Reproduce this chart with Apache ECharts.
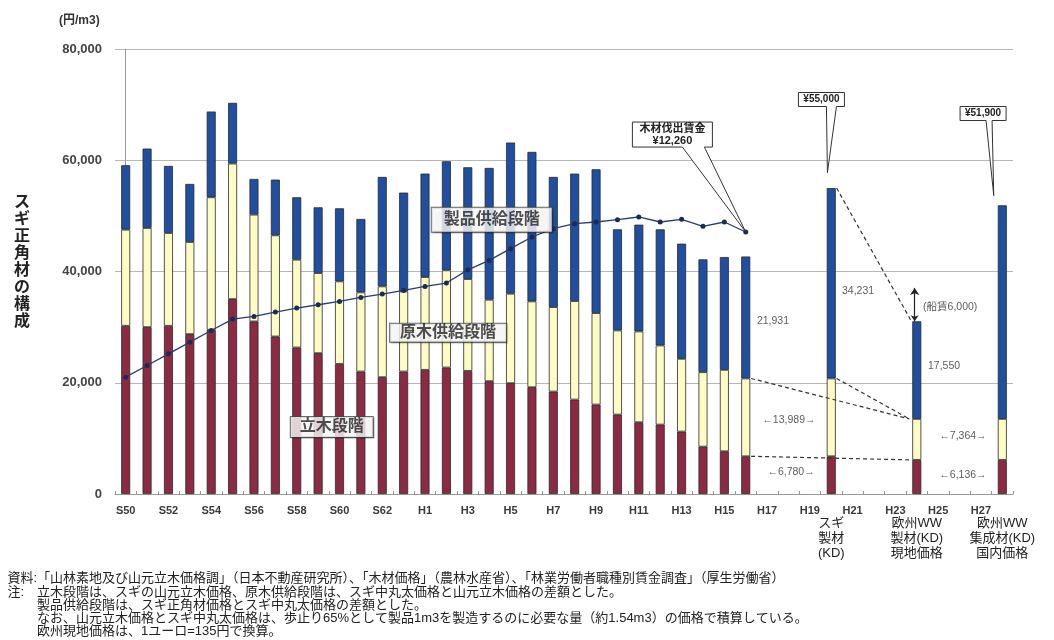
<!DOCTYPE html>
<html><head><meta charset="utf-8">
<script src="https://cdn.jsdelivr.net/npm/echarts@6/dist/echarts.min.js"></script>
<style>html,body{margin:0;padding:0;background:#fff}#c{width:1054px;height:640px}</style>
</head><body><div id="c"></div>
<script>
// ---- data ----
const categories = ['S50','S51','S52','S53','S54','S55','S56','S57','S58','S59','S60','S61','S62','S63',
  'H1','H2','H3','H4','H5','H6','H7','H8','H9','H10','H11','H12','H13','H14','H15','H16',
  'H17','H18','H19','H20','H21','H22','H23','H24','H25','H26','H27','H28'];
// 立木段階
const standing = [30240,30000,30240,28740,29520,35040,31020,28320,26340,25320,23400,22020,21000,22020,
  22320,22740,22140,20280,19920,19200,18420,16980,16080,14280,12900,12480,11220,8520,7680,6780,
  null,null,null,6780,null,null,null,6136,null,null,null,6136];
// 原木供給段階
const logSupply = [17280,17820,16680,16560,23820,24360,19200,18180,15780,14400,14820,14220,16320,14400,
  16680,17460,16500,14640,16080,15420,15180,17700,16440,15120,16320,14220,13080,13380,14640,13989,
  null,null,null,13989,null,null,null,7364,null,null,null,7364];
// 製品供給段階
const productSupply = [11580,14280,12060,10440,15420,10920,6420,10020,11220,11820,13140,13200,19680,17760,
  18600,19620,20100,23700,27180,26880,23400,22920,25860,18180,19200,20880,20700,20280,20280,21931,
  null,null,null,34231,null,null,null,17550,null,null,null,38400];
// 木材伐出賃金 (line, drawn on chart scale)
const wageLine = [21000,23100,25200,27300,29400,31440,31920,32700,33420,34020,34620,35340,35940,36600,
  37320,37920,40300,42000,44100,46200,47700,48600,48900,49320,49800,48900,49380,48120,48900,47100,
  null,null,null,null,null,null,null,null,null,null,null,null];
const yTicks = [0,20000,40000,60000,80000];
const extraLabels = {33:'スギ\n製材\n(KD)', 37:'欧州WW\n製材(KD)\n現地価格', 41:'欧州WW\n集成材(KD)\n国内価格'};
const seriesNames = ['立木段階','原木供給段階','製品供給段階','木材伐出賃金'];

// ---- annotations (data coordinates: x = category index, y = value) ----
const stageLabels = [
  {name:'製品供給段階', value:[17.12,49320], pad:[4,12]},
  {name:'原木供給段階', value:[15.08,28980], pad:[1,10]},
  {name:'立木段階', value:[9.64,12060], pad:[2,9]}
];
const valueNotes = [
  {name:'21,931', value:[29.43,31140], pos:'right', bg:true},
  {name:'34,231', value:[33.41,36540], pos:'right', bg:true},
  {name:'17,550', value:[37.43,23040], pos:'right', bg:true},
  {name:'(船賃6,000)', value:[37.2,33660], pos:'right'},
  {name:'←13,989→', value:[31.02,13320], pos:'inside'},
  {name:'←6,780→', value:[31.12,3960], pos:'inside'},
  {name:'←7,364→', value:[39.16,10440], pos:'inside'},
  {name:'←6,136→', value:[39.16,3420], pos:'inside'}
];
const dashedLinks = [
  [[29.25,20769],[36.65,13500]],
  [[33.25,20769],[36.65,13500]],
  [[33.25,55000],[36.75,31050]],
  [[29.25,6780],[36.65,6136]]
];
const freightArrow = [[36.9,31050],[36.9,37050]];
const callouts = [
  {text:'木材伐出賃金\n¥12,260', at:[25.57,64620], tip:[29,47100], w:80, h:25, n:[10,32]},
  {text:'¥55,000', at:[32.54,70920], tip:[32.82,57780], w:46, h:14, n:[5,15]},
  {text:'¥51,900', at:[40.1,68400], tip:[40.6,53640], w:46, h:14, n:[3,9]}
];
const notes = [
  '「山林素地及び山元立木価格調」（日本不動産研究所）、「木材価格」（農林水産省）、「林業労働者職種別賃金調査」（厚生労働省）',
  '立木段階は、スギの山元立木価格、原木供給段階は、スギ中丸太価格と山元立木価格の差額とした。',
  '製品供給段階は、スギ正角材価格とスギ中丸太価格の差額とした。',
  'なお、山元立木価格とスギ中丸太価格は、歩止り65%として製品1m3を製造するのに必要な量（約1.54m3）の価格で積算している。',
  '欧州現地価格は、1ユーロ=135円で換算。'
];

const FF = "'Liberation Sans','Noto Sans CJK JP',sans-serif";
const chart = echarts.init(document.getElementById('c'), null, {renderer:'canvas'});
const fmt = v => String(v).replace(/\B(?=(\d{3})+(?!\d))/g, ',');
const barCommon = {type:'bar', stack:'s', barWidth:9, xAxisIndex:0, yAxisIndex:0,
  itemStyle:{borderColor:'#2a2a2a', borderWidth:0.8}};

const markLineData = dashedLinks.map(l => [{coord:l[0]},{coord:l[1]}]);
markLineData.push([
  {coord:freightArrow[0], symbol:'arrow', symbolSize:6, lineStyle:{type:'solid', width:1.2, color:'#222'}},
  {coord:freightArrow[1], symbol:'arrow', symbolSize:7, lineStyle:{type:'solid', width:1.2, color:'#222'}}
]);

chart.setOption({
  animation:false,
  textStyle:{fontFamily:FF},
  title:[
    {text:'(円/m3)', left:54, top:10, textStyle:{fontSize:12, fontWeight:'bold', color:'#333', fontFamily:FF}},
    {text:'ス\nギ\n正\n角\n材\nの\n構\n成', left:9, top:189,
     textStyle:{fontSize:16, fontWeight:'bold', color:'#222', lineHeight:17, fontFamily:FF}}
  ],
  grid:{left:115, right:41, top:49, bottom:146, containLabel:false},
  xAxis:[
    {type:'category', data:categories, position:'bottom',
     axisLine:{lineStyle:{color:'#9a9a9a'}},
     axisTick:{show:true, inside:true, length:3, interval:0, lineStyle:{color:'#8a9a8a'}},
     axisLabel:{interval:(i)=> i%2===0 && i<=40, margin:11, fontSize:11, fontWeight:'bold', color:'#3a3a3a'}},
    {type:'category', data:categories, position:'bottom', gridIndex:0,
     axisLine:{show:false}, axisTick:{show:false},
     axisLabel:{interval:(i)=> extraLabels[i]!==undefined, margin:22, fontSize:13, lineHeight:15,
       color:'#222', formatter:(v,i)=> extraLabels[i] || ''}},
    {type:'value', min:-0.5, max:41.5, show:false}
  ],
  yAxis:[{type:'value', min:0, max:80000, interval:20000,
    axisLine:{show:true, lineStyle:{color:'#9a9a9a'}}, axisTick:{show:false},
    splitLine:{lineStyle:{color:'#b8b8b8', width:1}},
    axisLabel:{formatter:v=> yTicks.includes(v)? fmt(v):'', fontSize:13, fontWeight:'bold', color:'#444', margin:13}}],
  graphic:[
    {type:'text', right:1054-37, top:572, style:{text:'資料:\n注:', fontSize:13, lineHeight:13.3, fill:'#222', align:'right', fontFamily:FF}},
    {type:'text', left:37, top:572, style:{text:notes.join('\n'),
      fontSize:13, lineHeight:13.3, fill:'#222', fontFamily:FF}}
  ],
  series:[
    Object.assign({}, barCommon, {name:seriesNames[0], data:standing, itemStyle:Object.assign({}, barCommon.itemStyle, {color:'#8c2a44'})}),
    Object.assign({}, barCommon, {name:seriesNames[1], data:logSupply, itemStyle:Object.assign({}, barCommon.itemStyle, {color:'#fcfcc4'})}),
    Object.assign({}, barCommon, {name:seriesNames[2], data:productSupply, itemStyle:Object.assign({}, barCommon.itemStyle, {color:'#1f4f9e'})}),
    {name:seriesNames[3], type:'line', data:wageLine, xAxisIndex:0, yAxisIndex:0, z:3,
     symbol:'circle', symbolSize:5, connectNulls:false,
     lineStyle:{color:'#2b3c70', width:1.3}, itemStyle:{color:'#1c2a58'}},
    {type:'scatter', xAxisIndex:2, yAxisIndex:0, z:6, symbolSize:0, silent:true,
     data:stageLabels.map(s=>({name:s.name, value:s.value,
       label:{show:true, position:'inside', formatter:'{b}', fontSize:16, fontWeight:'bold', color:'#222',
         backgroundColor:'#fff', borderColor:'#444', borderWidth:1, padding:s.pad,
         shadowColor:'rgba(0,0,0,0.25)', shadowOffsetX:1, shadowOffsetY:1, shadowBlur:1}}))},
    {type:'scatter', xAxisIndex:2, yAxisIndex:0, z:6, symbolSize:0, silent:true,
     data:valueNotes.map(s=>({name:s.name, value:s.value,
       label:{show:true, position:s.pos, distance:0, formatter:'{b}', fontSize:10.5, color:'#333',
         backgroundColor:s.bg?'#fff':'transparent', padding:[1,2]}})),
     markLine:{silent:true, symbol:['none','none'], label:{show:false},
       lineStyle:{type:[4,3], color:'#333', width:1.2}, data:markLineData}},
    {type:'custom', xAxisIndex:2, yAxisIndex:0, z:7, silent:true, clip:false,
     data:callouts.map(c=>c.at),
     renderItem:(params, api)=>{
       const c = callouts[params.dataIndex];
       const p = api.coord(c.at), t = api.coord(c.tip);
       const L=p[0]-c.w/2, R=p[0]+c.w/2, T=p[1]-c.h/2, B=p[1]+c.h/2;
       return {type:'group', children:[
         {type:'polygon', shape:{points:[[L,T],[R,T],[R,B],[p[0]+c.n[1],B],t,[p[0]+c.n[0],B],[L,B]]},
          style:{fill:'#fff', stroke:'#333', lineWidth:1}},
         {type:'text', style:{text:c.text, x:p[0], y:p[1], align:'center', verticalAlign:'middle',
          font:'bold '+(c.h>20?11:10)+'px '+FF, lineHeight:12, fill:'#222'}}
       ]};
     }}
  ]
});
</script></body></html>
